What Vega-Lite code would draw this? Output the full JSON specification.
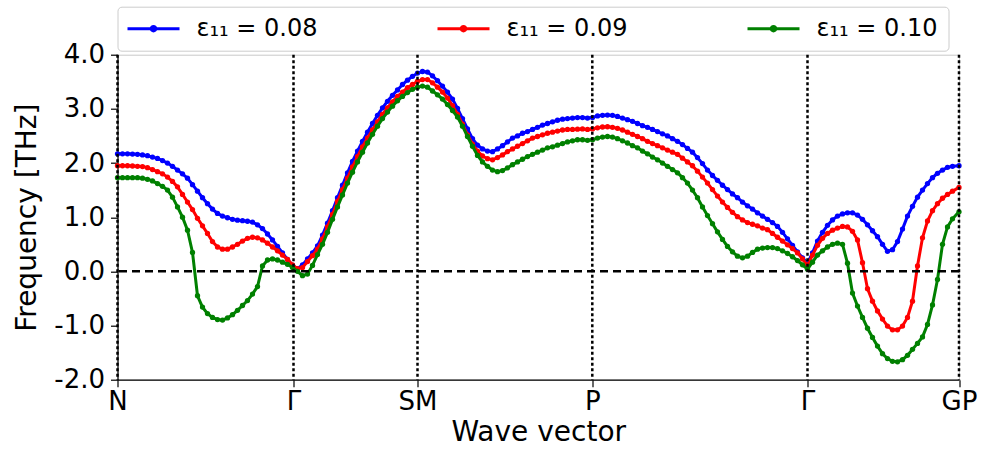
{
"$schema": "https://vega.github.io/schema/vega-lite/v6.json",
"autosize": {"type": "none"},
"padding": {"left": 117.5, "top": 54.7, "right": 23, "bottom": 73.3},
"width": 841.5,
"height": 325,
"background": "white",
"config": {
"view": {"stroke": "#c8c8c8", "strokeWidth": 1},
"font": "DejaVu Sans",
"axis": {"grid": false, "domainColor": "black", "domainWidth": 1.2, "tickColor": "black", "tickWidth": 1.2, "tickSize": 7, "labelColor": "black", "titleColor": "black", "labelFont": "DejaVu Sans", "titleFont": "DejaVu Sans", "labelFontSize": 26, "titleFontSize": 28, "titleFontWeight": "normal"}
},
"datasets": {
"band": [
{"x":0,"a":2.17,"b":1.95,"c":1.73},
{"x":5,"a":2.17,"b":1.95,"c":1.73},
{"x":10,"a":2.17,"b":1.95,"c":1.73},
{"x":15,"a":2.165,"b":1.945,"c":1.73},
{"x":20,"a":2.16,"b":1.94,"c":1.73},
{"x":25,"a":2.15,"b":1.935,"c":1.72},
{"x":30,"a":2.135,"b":1.915,"c":1.70},
{"x":35,"a":2.11,"b":1.88,"c":1.67},
{"x":40,"a":2.085,"b":1.84,"c":1.62},
{"x":45,"a":2.045,"b":1.80,"c":1.57},
{"x":50,"a":2.00,"b":1.74,"c":1.50},
{"x":55,"a":1.94,"b":1.66,"c":1.37},
{"x":60,"a":1.87,"b":1.56,"c":1.19},
{"x":65,"a":1.80,"b":1.42,"c":1.00},
{"x":70,"a":1.72,"b":1.28,"c":0.76},
{"x":75,"a":1.60,"b":1.14,"c":0.35},
{"x":80,"a":1.48,"b":0.98,"c":-0.45},
{"x":85,"a":1.36,"b":0.84,"c":-0.66},
{"x":90,"a":1.25,"b":0.70,"c":-0.78},
{"x":95,"a":1.15,"b":0.55,"c":-0.85},
{"x":100,"a":1.07,"b":0.45,"c":-0.89},
{"x":105,"a":1.02,"b":0.41,"c":-0.90},
{"x":110,"a":0.99,"b":0.41,"c":-0.86},
{"x":115,"a":0.96,"b":0.45,"c":-0.80},
{"x":120,"a":0.945,"b":0.50,"c":-0.72},
{"x":125,"a":0.935,"b":0.56,"c":-0.63},
{"x":130,"a":0.925,"b":0.61,"c":-0.54},
{"x":135,"a":0.91,"b":0.63,"c":-0.42},
{"x":140,"a":0.86,"b":0.62,"c":-0.28},
{"x":145,"a":0.79,"b":0.58,"c":0.10},
{"x":150,"a":0.69,"b":0.52,"c":0.21},
{"x":155,"a":0.58,"b":0.45,"c":0.23},
{"x":160,"a":0.46,"b":0.38,"c":0.21},
{"x":165,"a":0.34,"b":0.30,"c":0.17},
{"x":170,"a":0.22,"b":0.22,"c":0.13},
{"x":175,"a":0.11,"b":0.12,"c":0.07},
{"x":180,"a":0.05,"b":0.05,"c":0.00},
{"x":185,"a":0.12,"b":0.07,"c":-0.08},
{"x":190,"a":0.23,"b":0.18,"c":-0.05},
{"x":195,"a":0.34,"b":0.29,"c":0.11},
{"x":200,"a":0.47,"b":0.41,"c":0.31},
{"x":205,"a":0.67,"b":0.60,"c":0.50},
{"x":210,"a":0.89,"b":0.82,"c":0.72},
{"x":215,"a":1.12,"b":1.05,"c":0.96},
{"x":220,"a":1.36,"b":1.29,"c":1.19},
{"x":225,"a":1.59,"b":1.51,"c":1.41},
{"x":230,"a":1.82,"b":1.72,"c":1.63},
{"x":235,"a":2.03,"b":1.93,"c":1.83},
{"x":240,"a":2.22,"b":2.12,"c":2.02},
{"x":245,"a":2.40,"b":2.30,"c":2.20},
{"x":250,"a":2.57,"b":2.46,"c":2.37},
{"x":255,"a":2.73,"b":2.61,"c":2.53},
{"x":260,"a":2.88,"b":2.76,"c":2.68},
{"x":265,"a":3.02,"b":2.90,"c":2.82},
{"x":270,"a":3.14,"b":3.02,"c":2.94},
{"x":275,"a":3.25,"b":3.13,"c":3.05},
{"x":280,"a":3.35,"b":3.23,"c":3.15},
{"x":285,"a":3.45,"b":3.31,"c":3.23},
{"x":290,"a":3.53,"b":3.39,"c":3.30},
{"x":295,"a":3.60,"b":3.45,"c":3.36},
{"x":300,"a":3.66,"b":3.51,"c":3.40},
{"x":305,"a":3.69,"b":3.54,"c":3.42},
{"x":310,"a":3.68,"b":3.54,"c":3.40},
{"x":315,"a":3.61,"b":3.48,"c":3.33},
{"x":320,"a":3.52,"b":3.40,"c":3.26},
{"x":325,"a":3.42,"b":3.31,"c":3.18},
{"x":330,"a":3.31,"b":3.20,"c":3.08},
{"x":335,"a":3.18,"b":3.06,"c":2.97},
{"x":340,"a":3.01,"b":2.90,"c":2.85},
{"x":345,"a":2.82,"b":2.72,"c":2.68},
{"x":350,"a":2.63,"b":2.52,"c":2.49},
{"x":355,"a":2.45,"b":2.35,"c":2.31},
{"x":360,"a":2.33,"b":2.22,"c":2.14},
{"x":365,"a":2.26,"b":2.13,"c":2.02},
{"x":370,"a":2.22,"b":2.08,"c":1.94},
{"x":375,"a":2.21,"b":2.06,"c":1.87},
{"x":380,"a":2.26,"b":2.10,"c":1.84},
{"x":385,"a":2.32,"b":2.15,"c":1.86},
{"x":390,"a":2.39,"b":2.21,"c":1.91},
{"x":395,"a":2.46,"b":2.26,"c":1.97},
{"x":400,"a":2.50,"b":2.31,"c":2.02},
{"x":405,"a":2.55,"b":2.36,"c":2.07},
{"x":410,"a":2.58,"b":2.41,"c":2.12},
{"x":415,"a":2.62,"b":2.46,"c":2.16},
{"x":420,"a":2.66,"b":2.49,"c":2.20},
{"x":425,"a":2.70,"b":2.52,"c":2.24},
{"x":430,"a":2.73,"b":2.55,"c":2.28},
{"x":435,"a":2.76,"b":2.57,"c":2.30},
{"x":440,"a":2.79,"b":2.59,"c":2.33},
{"x":445,"a":2.81,"b":2.61,"c":2.36},
{"x":450,"a":2.82,"b":2.62,"c":2.39},
{"x":455,"a":2.83,"b":2.62,"c":2.41},
{"x":460,"a":2.84,"b":2.625,"c":2.43},
{"x":465,"a":2.84,"b":2.63,"c":2.43},
{"x":470,"a":2.83,"b":2.62,"c":2.42},
{"x":475,"a":2.84,"b":2.63,"c":2.43},
{"x":480,"a":2.87,"b":2.65,"c":2.46},
{"x":485,"a":2.88,"b":2.665,"c":2.48},
{"x":490,"a":2.885,"b":2.67,"c":2.49},
{"x":495,"a":2.88,"b":2.66,"c":2.48},
{"x":500,"a":2.86,"b":2.64,"c":2.45},
{"x":505,"a":2.83,"b":2.61,"c":2.41},
{"x":510,"a":2.80,"b":2.57,"c":2.37},
{"x":515,"a":2.77,"b":2.53,"c":2.32},
{"x":520,"a":2.73,"b":2.49,"c":2.28},
{"x":525,"a":2.69,"b":2.45,"c":2.22},
{"x":530,"a":2.66,"b":2.40,"c":2.17},
{"x":535,"a":2.62,"b":2.36,"c":2.11},
{"x":540,"a":2.58,"b":2.32,"c":2.06},
{"x":545,"a":2.54,"b":2.28,"c":2.00},
{"x":550,"a":2.50,"b":2.24,"c":1.94},
{"x":555,"a":2.45,"b":2.20,"c":1.88},
{"x":560,"a":2.40,"b":2.16,"c":1.82},
{"x":565,"a":2.34,"b":2.09,"c":1.73},
{"x":570,"a":2.27,"b":2.02,"c":1.63},
{"x":575,"a":2.20,"b":1.95,"c":1.50},
{"x":580,"a":2.10,"b":1.85,"c":1.36},
{"x":585,"a":1.99,"b":1.74,"c":1.19},
{"x":590,"a":1.87,"b":1.63,"c":1.03},
{"x":595,"a":1.77,"b":1.51,"c":0.88},
{"x":600,"a":1.68,"b":1.39,"c":0.73},
{"x":605,"a":1.59,"b":1.28,"c":0.59},
{"x":610,"a":1.51,"b":1.18,"c":0.46},
{"x":615,"a":1.43,"b":1.09,"c":0.36},
{"x":620,"a":1.36,"b":1.01,"c":0.28},
{"x":625,"a":1.28,"b":0.95,"c":0.25},
{"x":630,"a":1.21,"b":0.90,"c":0.28},
{"x":635,"a":1.15,"b":0.87,"c":0.35},
{"x":640,"a":1.08,"b":0.84,"c":0.41},
{"x":645,"a":1.02,"b":0.80,"c":0.43},
{"x":650,"a":0.96,"b":0.77,"c":0.44},
{"x":655,"a":0.90,"b":0.70,"c":0.44},
{"x":660,"a":0.83,"b":0.63,"c":0.42},
{"x":665,"a":0.72,"b":0.56,"c":0.38},
{"x":670,"a":0.60,"b":0.49,"c":0.33},
{"x":675,"a":0.48,"b":0.42,"c":0.27},
{"x":680,"a":0.36,"b":0.34,"c":0.20},
{"x":685,"a":0.25,"b":0.23,"c":0.12},
{"x":690,"a":0.15,"b":0.11,"c":0.04},
{"x":695,"a":0.34,"b":0.30,"c":0.17},
{"x":700,"a":0.56,"b":0.48,"c":0.30},
{"x":705,"a":0.72,"b":0.61,"c":0.38},
{"x":710,"a":0.85,"b":0.70,"c":0.45},
{"x":715,"a":0.95,"b":0.76,"c":0.50},
{"x":720,"a":1.02,"b":0.80,"c":0.52},
{"x":725,"a":1.06,"b":0.83,"c":0.50},
{"x":730,"a":1.08,"b":0.82,"c":0.15},
{"x":735,"a":1.08,"b":0.74,"c":-0.40},
{"x":740,"a":1.04,"b":0.58,"c":-0.64},
{"x":745,"a":0.96,"b":0.16,"c":-0.85},
{"x":750,"a":0.86,"b":-0.32,"c":-1.05},
{"x":755,"a":0.75,"b":-0.55,"c":-1.22},
{"x":760,"a":0.64,"b":-0.73,"c":-1.38},
{"x":765,"a":0.50,"b":-0.88,"c":-1.52},
{"x":770,"a":0.37,"b":-1.01,"c":-1.61},
{"x":775,"a":0.40,"b":-1.08,"c":-1.66},
{"x":780,"a":0.55,"b":-1.08,"c":-1.67},
{"x":785,"a":0.78,"b":-1.01,"c":-1.63},
{"x":790,"a":1.02,"b":-0.85,"c":-1.55},
{"x":795,"a":1.20,"b":-0.55,"c":-1.44},
{"x":800,"a":1.37,"b":0.10,"c":-1.33},
{"x":805,"a":1.50,"b":0.62,"c":-1.21},
{"x":810,"a":1.62,"b":0.93,"c":-0.98},
{"x":815,"a":1.73,"b":1.12,"c":-0.62},
{"x":820,"a":1.81,"b":1.25,"c":-0.15},
{"x":825,"a":1.87,"b":1.35,"c":0.50},
{"x":830,"a":1.92,"b":1.42,"c":0.82},
{"x":835,"a":1.94,"b":1.48,"c":0.97},
{"x":841.5,"a":1.95,"b":1.55,"c":1.10}
],
"ticks": [{"x":0},{"x":176},{"x":300},{"x":474.8},{"x":690},{"x":841.5}]
},
"layer": [
{"data": {"name": "band"},
 "transform": [{"fold": ["a","b","c"], "as": ["series","f"]}, {"filter": "datum.series == 'a'"}],
 "mark": {"type": "line", "strokeWidth": 3, "point": {"filled": true, "size": 28, "opacity": 1}},
 "encoding": {
  "x": {"field": "x", "type": "quantitative", "title": "Wave vector", "scale": {"domain": [0, 841.5], "nice": false, "zero": false},
        "axis": {"values": [0,176,300,474.8,690,841.5], "labelExpr": "datum.value == 0 ? 'N' : datum.value == 176 ? 'Γ' : datum.value == 300 ? 'SM' : datum.value == 474.8 ? 'P' : datum.value == 690 ? 'Γ' : 'GP'", "labelPadding": 2, "titlePadding": 4, "labelFlush": false, "labelOverlap": false, "labelBound": false}},
  "y": {"field": "f", "type": "quantitative", "title": "Frequency [THz]", "scale": {"domain": [-2, 4], "nice": false, "zero": false},
        "axis": {"values": [-2,-1,0,1,2,3,4], "labelExpr": "replace(format(datum.value, '.1f'), '−', '-')", "labelPadding": 6, "titlePadding": 12}},
  "color": {"field": "series", "type": "nominal", "scale": {"domain": ["a","b","c"], "range": ["#0000ff","#ff0000","#008000"]},
        "legend": {"orient": "none", "legendX": 0, "legendY": -48, "direction": "horizontal", "columns": 3, "title": null, "padding": 10, "strokeColor": "#cccccc", "fillColor": "white", "cornerRadius": 4, "labelFont": "DejaVu Sans", "labelFontSize": 24, "labelColor": "black", "labelLimit": 300, "symbolType": "M-4,0H4M0.35,0A0.35,0.35 0 1 1 -0.35,0A0.35,0.35 0 1 1 0.35,0", "symbolSize": 169, "symbolStrokeWidth": 3, "symbolOffset": 14, "columnPadding": 113, "labelOffset": 31, "labelExpr": "datum.label == 'a' ? 'ε₁₁ = 0.08' : datum.label == 'b' ? 'ε₁₁ = 0.09' : 'ε₁₁ = 0.10'"}}
 }},
{"data": {"name": "band"},
 "transform": [{"fold": ["a","b","c"], "as": ["series","f"]}, {"filter": "datum.series == 'b'"}],
 "mark": {"type": "line", "strokeWidth": 3, "point": {"filled": true, "size": 28, "opacity": 1}},
 "encoding": {
  "x": {"field": "x", "type": "quantitative", "title": "Wave vector"},
  "y": {"field": "f", "type": "quantitative", "title": "Frequency [THz]"},
  "color": {"field": "series", "type": "nominal"}
 }},
{"data": {"name": "band"},
 "transform": [{"fold": ["a","b","c"], "as": ["series","f"]}, {"filter": "datum.series == 'c'"}],
 "mark": {"type": "line", "strokeWidth": 3, "point": {"filled": true, "size": 28, "opacity": 1}},
 "encoding": {
  "x": {"field": "x", "type": "quantitative", "title": "Wave vector"},
  "y": {"field": "f", "type": "quantitative", "title": "Frequency [THz]"},
  "color": {"field": "series", "type": "nominal"}
 }},
{"data": {"name": "ticks"},
 "mark": {"type": "rule", "strokeDash": [3, 2.5], "strokeWidth": 2.5, "color": "black"},
 "encoding": {"x": {"field": "x", "type": "quantitative", "title": "Wave vector"}}},
{"data": {"values": [{"z": 0}]},
 "mark": {"type": "rule", "strokeDash": [8, 5], "strokeWidth": 2.5, "color": "black"},
 "encoding": {"y": {"field": "z", "type": "quantitative", "title": "Frequency [THz]"}}}
]
}
